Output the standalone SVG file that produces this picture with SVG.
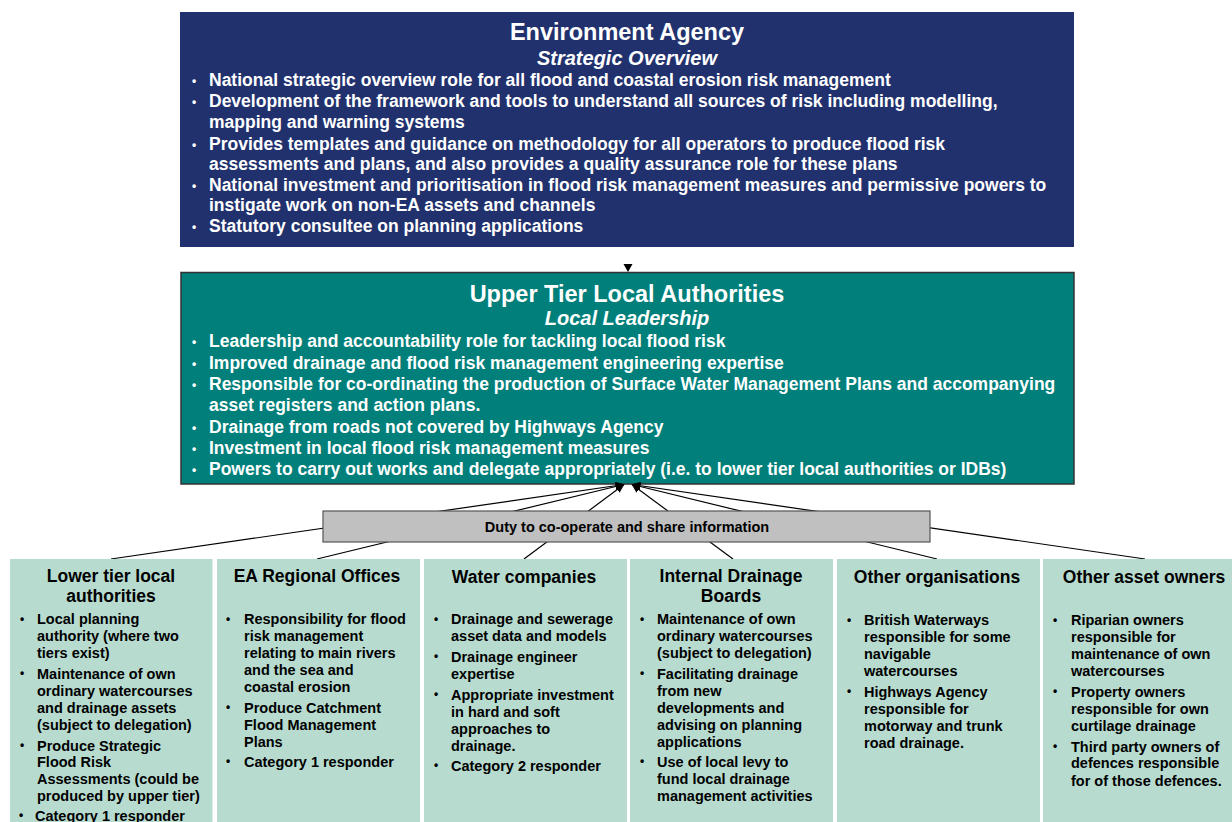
<svg xmlns="http://www.w3.org/2000/svg" width="1232" height="822" viewBox="0 0 1232 822">
  <defs>
    <marker id="arrow" markerWidth="9" markerHeight="8" refX="8.5" refY="4" orient="auto" markerUnits="userSpaceOnUse">
      <path d="M0,0 L9,4 L0,8 Z" fill="#000"/>
    </marker>
    <style>
      text { font-family: "Liberation Sans", Arial, sans-serif; font-weight: bold; }
      .hdr-w { fill: #fff; font-size: 23.5px; text-anchor: middle; }
      .sub-w { fill: #fff; font-size: 20px; font-style: italic; text-anchor: middle; }
      .bul-w { fill: #fff; font-size: 17.5px; }
      .dot-w { fill: #fff; font-size: 12px; }
      .hdr-k { fill: #000; font-size: 17.5px; text-anchor: middle; }
      .bul-k { fill: #000; font-size: 14.5px; }
      .dot-k { fill: #000; font-size: 12px; }
      .card { fill: #b7dccf; }
      .conn { stroke: #000; stroke-width: 1.2; fill: none; }
    </style>
  </defs>

  <rect width="1232" height="822" fill="#fff"/>

  <!-- Environment Agency -->
  <g id="environment-agency">
    <rect x="180" y="12" width="894" height="235" fill="#21316d"/>
    <text class="hdr-w" x="627" y="40">Environment Agency</text>
    <text class="sub-w" x="627" y="65">Strategic Overview</text>
    <g class="dot-w">
      <text x="192" y="85">•</text>
      <text x="192" y="106">•</text>
      <text x="192" y="148.5">•</text>
      <text x="192" y="190">•</text>
      <text x="192" y="231">•</text>
    </g>
    <text class="bul-w">
      <tspan x="209" y="86">National strategic overview role for all flood and coastal erosion risk management</tspan>
      <tspan x="209" y="107">Development of the framework and tools to understand all sources of risk including modelling,</tspan>
      <tspan x="209" y="128">mapping and warning systems</tspan>
      <tspan x="209" y="149.5">Provides templates and guidance on methodology for all operators to produce flood risk</tspan>
      <tspan x="209" y="169.5">assessments and plans, and also provides a quality assurance role for these plans</tspan>
      <tspan x="209" y="191">National investment and prioritisation in flood risk management measures and permissive powers to</tspan>
      <tspan x="209" y="211">instigate work on non-EA assets and channels</tspan>
      <tspan x="209" y="232">Statutory consultee on planning applications</tspan>
    </text>
  </g>

  <!-- Upper Tier Local Authorities -->
  <g id="upper-tier-local-authorities">
    <rect x="181" y="272.5" width="893" height="211.5" fill="#007f7b" stroke="#333" stroke-width="1.5"/>
    <text class="hdr-w" x="627" y="302">Upper Tier Local Authorities</text>
    <text class="sub-w" x="627" y="325">Local Leadership</text>
    <g class="dot-w">
      <text x="192" y="346">•</text>
      <text x="192" y="367.5">•</text>
      <text x="192" y="389">•</text>
      <text x="192" y="432">•</text>
      <text x="192" y="452.5">•</text>
      <text x="192" y="473.5">•</text>
    </g>
    <text class="bul-w">
      <tspan x="209" y="347">Leadership and accountability role for tackling local flood risk</tspan>
      <tspan x="209" y="368.5">Improved drainage and flood risk management engineering expertise</tspan>
      <tspan x="209" y="390">Responsible for co-ordinating the production of Surface Water Management Plans and accompanying</tspan>
      <tspan x="209" y="411">asset registers and action plans.</tspan>
      <tspan x="209" y="433">Drainage from roads not covered by Highways Agency</tspan>
      <tspan x="209" y="453.5">Investment in local flood risk management measures</tspan>
      <tspan x="209" y="474.5">Powers to carry out works and delegate appropriately (i.e. to lower tier local authorities or IDBs)</tspan>
    </text>
  </g>

  <!-- Connectors -->
  <g id="connectors">
    <polygon points="623.5,264 632.5,264 628,272" fill="#000"/>
    <line class="conn" x1="111" y1="559" x2="624" y2="484.5" marker-end="url(#arrow)"/>
    <line class="conn" x1="317" y1="559" x2="624" y2="484.5" marker-end="url(#arrow)"/>
    <line class="conn" x1="524" y1="559" x2="624" y2="484.5" marker-end="url(#arrow)"/>
    <line class="conn" x1="733" y1="559" x2="632" y2="484.5" marker-end="url(#arrow)"/>
    <line class="conn" x1="937" y1="559" x2="632" y2="484.5" marker-end="url(#arrow)"/>
    <line class="conn" x1="1145" y1="559" x2="632" y2="484.5" marker-end="url(#arrow)"/>
  </g>

  <!-- Shared duty bar -->
  <g id="duty-bar">
    <rect x="323" y="511" width="607" height="31" fill="#c0c0c0" stroke="#555" stroke-width="1.2"/>
    <text x="627" y="532" fill="#000" font-size="14.5" text-anchor="middle">Duty to co-operate and share information</text>
  </g>

  <!-- Lower tier local authorities -->
  <g id="lower-tier">
    <rect class="card" x="10" y="559" width="202.5" height="263"/>
    <text class="hdr-k"><tspan x="111" y="582">Lower tier local</tspan><tspan x="111" y="602">authorities</tspan></text>
    <g class="dot-k">
      <text x="20" y="623">•</text>
      <text x="20" y="677">•</text>
      <text x="20" y="749">•</text>
      <text x="19" y="819">•</text>
    </g>
    <text class="bul-k">
      <tspan x="37" y="624">Local planning</tspan>
      <tspan x="37" y="640.5">authority (where two</tspan>
      <tspan x="37" y="657.5">tiers exist)</tspan>
      <tspan x="37" y="678.5">Maintenance of own</tspan>
      <tspan x="37" y="695.5">ordinary watercourses</tspan>
      <tspan x="37" y="712.5">and drainage assets</tspan>
      <tspan x="37" y="729.5">(subject to delegation)</tspan>
      <tspan x="37" y="750.5">Produce Strategic</tspan>
      <tspan x="37" y="766.5">Flood Risk</tspan>
      <tspan x="37" y="783.5">Assessments (could be</tspan>
      <tspan x="37" y="800.5">produced by upper tier)</tspan>
      <tspan x="35" y="820.5">Category 1 responder</tspan>
    </text>
  </g>

  <!-- EA Regional Offices -->
  <g id="ea-regional">
    <rect class="card" x="217" y="559" width="203" height="263"/>
    <text class="hdr-k" x="317" y="582">EA Regional Offices</text>
    <g class="dot-k">
      <text x="226" y="623">•</text>
      <text x="226" y="711">•</text>
      <text x="226" y="765">•</text>
    </g>
    <text class="bul-k">
      <tspan x="244" y="624">Responsibility for flood</tspan>
      <tspan x="244" y="640.5">risk management</tspan>
      <tspan x="244" y="657.5">relating to main rivers</tspan>
      <tspan x="244" y="674.5">and the sea and</tspan>
      <tspan x="244" y="691.5">coastal erosion</tspan>
      <tspan x="244" y="712.5">Produce Catchment</tspan>
      <tspan x="244" y="729.5">Flood Management</tspan>
      <tspan x="244" y="746.5">Plans</tspan>
      <tspan x="244" y="766.5">Category 1 responder</tspan>
    </text>
  </g>

  <!-- Water companies -->
  <g id="water-companies">
    <rect class="card" x="424" y="559" width="203" height="263"/>
    <text class="hdr-k" x="524" y="583">Water companies</text>
    <g class="dot-k">
      <text x="434" y="623">•</text>
      <text x="434" y="660">•</text>
      <text x="434" y="698">•</text>
      <text x="434" y="769">•</text>
    </g>
    <text class="bul-k">
      <tspan x="451" y="624">Drainage and sewerage</tspan>
      <tspan x="451" y="640.5">asset data and models</tspan>
      <tspan x="451" y="661.5">Drainage engineer</tspan>
      <tspan x="451" y="678.5">expertise</tspan>
      <tspan x="451" y="699.5">Appropriate investment</tspan>
      <tspan x="451" y="716.5">in hard and soft</tspan>
      <tspan x="451" y="733.5">approaches to</tspan>
      <tspan x="451" y="750.5">drainage.</tspan>
      <tspan x="451" y="770.5">Category 2 responder</tspan>
    </text>
  </g>

  <!-- Internal Drainage Boards -->
  <g id="internal-drainage-boards">
    <rect class="card" x="630" y="559" width="203" height="263"/>
    <text class="hdr-k"><tspan x="731" y="582">Internal Drainage</tspan><tspan x="731" y="602">Boards</tspan></text>
    <g class="dot-k">
      <text x="640" y="623">•</text>
      <text x="640" y="677">•</text>
      <text x="640" y="765">•</text>
    </g>
    <text class="bul-k">
      <tspan x="657" y="624">Maintenance of own</tspan>
      <tspan x="657" y="640.5">ordinary watercourses</tspan>
      <tspan x="657" y="657.5">(subject to delegation)</tspan>
      <tspan x="657" y="678.5">Facilitating drainage</tspan>
      <tspan x="657" y="695.5">from new</tspan>
      <tspan x="657" y="712.5">developments and</tspan>
      <tspan x="657" y="729.5">advising on planning</tspan>
      <tspan x="657" y="746.5">applications</tspan>
      <tspan x="657" y="766.5">Use of local levy to</tspan>
      <tspan x="657" y="783.5">fund local drainage</tspan>
      <tspan x="657" y="800.5">management activities</tspan>
    </text>
  </g>

  <!-- Other organisations -->
  <g id="other-organisations">
    <rect class="card" x="837" y="559" width="203" height="263"/>
    <text class="hdr-k" x="937" y="583">Other organisations</text>
    <g class="dot-k">
      <text x="847" y="624">•</text>
      <text x="847" y="695">•</text>
    </g>
    <text class="bul-k">
      <tspan x="864" y="625">British Waterways</tspan>
      <tspan x="864" y="641.5">responsible for some</tspan>
      <tspan x="864" y="658.5">navigable</tspan>
      <tspan x="864" y="675.5">watercourses</tspan>
      <tspan x="864" y="696.5">Highways Agency</tspan>
      <tspan x="864" y="713.5">responsible for</tspan>
      <tspan x="864" y="730.5">motorway and trunk</tspan>
      <tspan x="864" y="747.5">road drainage.</tspan>
    </text>
  </g>

  <!-- Other asset owners -->
  <g id="other-asset-owners">
    <rect class="card" x="1043" y="559" width="189" height="263"/>
    <text class="hdr-k" x="1144" y="583">Other asset owners</text>
    <g class="dot-k">
      <text x="1053" y="624">•</text>
      <text x="1053" y="695">•</text>
      <text x="1053" y="750">•</text>
    </g>
    <text class="bul-k">
      <tspan x="1071" y="625">Riparian owners</tspan>
      <tspan x="1071" y="641.5">responsible for</tspan>
      <tspan x="1071" y="658.5">maintenance of own</tspan>
      <tspan x="1071" y="675.5">watercourses</tspan>
      <tspan x="1071" y="696.5">Property owners</tspan>
      <tspan x="1071" y="713.5">responsible for own</tspan>
      <tspan x="1071" y="730.5">curtilage drainage</tspan>
      <tspan x="1071" y="751.5">Third party owners of</tspan>
      <tspan x="1071" y="767.5">defences responsible</tspan>
      <tspan x="1071" y="785.5">for of those defences.</tspan>
    </text>
  </g>
</svg>
